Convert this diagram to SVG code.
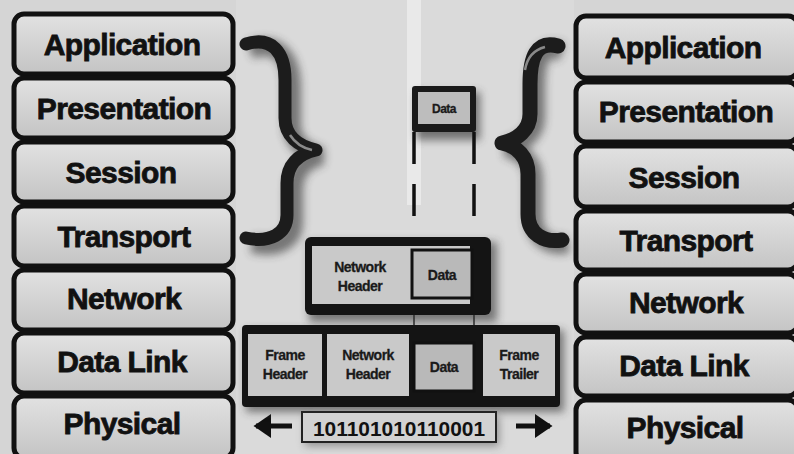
<svg xmlns="http://www.w3.org/2000/svg" width="794" height="454" viewBox="0 0 794 454">
<defs>
<linearGradient id="boxg" x1="0" y1="0" x2="0" y2="1">
<stop offset="0" stop-color="#e2e2e2"/>
<stop offset="1" stop-color="#c4c4c4"/>
</linearGradient>
<filter id="blur" x="-30%" y="-30%" width="160%" height="160%"><feGaussianBlur stdDeviation="4"/></filter>
<marker id="arr" markerWidth="6" markerHeight="6" refX="3" refY="3" orient="auto" markerUnits="strokeWidth">
<path d="M0,0.6 L3.5,3 L0,5.4 Z" fill="#111"/>
</marker>
</defs>
<style>
.layer{fill:url(#boxg);stroke:#111;stroke-width:5}
.lt{font-family:"Liberation Sans",Arial,sans-serif;font-weight:bold;font-size:30px;fill:#111;stroke:#111;stroke-width:0.8px;text-anchor:middle;letter-spacing:-0.6px}
.st{font-family:"Liberation Sans",Arial,sans-serif;font-weight:bold;font-size:14px;fill:#1a1a1a;stroke:#1a1a1a;stroke-width:0.3px;text-anchor:middle;letter-spacing:-0.5px}
.cell{fill:#c9c9c9}
.dbox{fill:#b9b9b9;stroke:#111;stroke-width:3}
.brace{fill:none;stroke:#1c1c1c;stroke-width:13;stroke-linecap:round;stroke-linejoin:round}
.bshadow{fill:none;stroke:#333;stroke-width:18;opacity:0.6}
.hl{fill:none;stroke:#8a8a8a;stroke-width:2.5}
.dash{stroke:#111;stroke-width:3.5;stroke-dasharray:32 20;fill:none}
</style>
<rect width="794" height="454" fill="#d5d5d5"/>
<rect x="236" y="0" width="338" height="454" fill="#dadada"/>
<rect x="407" y="0" width="14" height="205" fill="#eeeeee" opacity="0.75"/>

<g id="left-application"><rect class="layer" x="14" y="14" width="219" height="60" rx="10"/><text class="lt" x="122" y="55">Application</text></g>
<g id="left-presentation"><rect class="layer" x="14" y="78" width="219" height="60" rx="10"/><text class="lt" x="124" y="119">Presentation</text></g>
<g id="left-session"><rect class="layer" x="14" y="142" width="219" height="60" rx="10"/><text class="lt" x="121" y="183">Session</text></g>
<g id="left-transport"><rect class="layer" x="14" y="206" width="219" height="60" rx="10"/><text class="lt" x="124" y="247">Transport</text></g>
<g id="left-network"><rect class="layer" x="14" y="270" width="219" height="60" rx="10"/><text class="lt" x="124" y="309">Network</text></g>
<g id="left-datalink"><rect class="layer" x="14" y="333" width="219" height="60" rx="10"/><text class="lt" x="122" y="372">Data Link</text></g>
<g id="left-physical"><rect class="layer" x="14" y="396" width="219" height="62" rx="10"/><text class="lt" x="122" y="434">Physical</text></g>

<g id="right-application"><rect class="layer" x="576" y="16" width="222" height="62" rx="10"/><text class="lt" x="683" y="58">Application</text></g>
<g id="right-presentation"><rect class="layer" x="576" y="82" width="222" height="60" rx="10"/><text class="lt" x="686" y="122">Presentation</text></g>
<g id="right-session"><rect class="layer" x="576" y="146" width="222" height="61" rx="10"/><text class="lt" x="684" y="188">Session</text></g>
<g id="right-transport"><rect class="layer" x="576" y="211" width="222" height="59" rx="10"/><text class="lt" x="686" y="251">Transport</text></g>
<g id="right-network"><rect class="layer" x="576" y="274" width="222" height="59" rx="10"/><text class="lt" x="686" y="313">Network</text></g>
<g id="right-datalink"><rect class="layer" x="576" y="337" width="222" height="59" rx="10"/><text class="lt" x="684" y="376">Data Link</text></g>
<g id="right-physical"><rect class="layer" x="576" y="400" width="222" height="62" rx="10"/><text class="lt" x="685" y="438">Physical</text></g>

<g id="left-brace">
<path class="bshadow" filter="url(#blur)" d="M250 50 C278 40 292 58 292 88 L292 125 C292 142 305 152 322 156 C305 160 294 172 294 190 L294 222 C294 240 278 250 252 244"/>
<path class="brace" d="M246 44 C272 36 285 52 285 80 L285 118 C285 136 298 146 316 150 C298 154 287 165 287 183 L287 215 C287 234 270 243 246 238"/>
<path class="hl" d="M290 135 C295 143 303 148 312 150"/>
</g>
<g id="right-brace">
<path class="bshadow" filter="url(#blur)" d="M562 52 C540 44 536 62 536 88 L536 118 C536 134 522 144 506 148 C522 152 534 162 534 180 L534 218 C534 238 550 248 568 244"/>
<path class="brace" style="stroke-width:15" d="M558 46 C536 40 530 58 530 84 L530 114 C530 130 517 140 502 143 C517 146 528 157 528 174 L528 214 C528 234 544 243 562 240"/>
<path class="hl" d="M525 70 C527 58 533 50 545 47"/>
</g>

<g id="data-segment">
<rect x="416" y="92" width="64" height="48" fill="#444" filter="url(#blur)" opacity="0.7"/>
<rect x="412" y="86" width="64" height="46" rx="3" fill="#1a1a1a"/>
<rect x="418" y="92" width="52" height="32" fill="#bdbdbd"/>
<text class="st" x="444" y="113" style="font-size:12px">Data</text>
</g>

<g id="connectors">
<line class="dash" x1="414" y1="132" x2="414" y2="236"/>
<line class="dash" x1="474" y1="132" x2="474" y2="236"/>
<line x1="414" y1="300" x2="414" y2="345" stroke="#555" stroke-width="2"/>
<line x1="474" y1="300" x2="474" y2="345" stroke="#555" stroke-width="2"/>
<line x1="292" y1="426" x2="256" y2="426" stroke="#111" stroke-width="5" marker-end="url(#arr)"/>
<line x1="516" y1="426" x2="550" y2="426" stroke="#111" stroke-width="5" marker-end="url(#arr)"/>
</g>

<g id="network-packet">
<rect x="309" y="242" width="188" height="80" fill="#333" filter="url(#blur)" opacity="0.6"/>
<rect x="305" y="237" width="186" height="78" rx="6" fill="#141414"/>
<rect x="312" y="246" width="158" height="58" class="cell"/>
<rect x="412" y="250" width="60" height="48" class="dbox"/>
<text class="st" x="360" y="272">Network</text>
<text class="st" x="360" y="291">Header</text>
<text class="st" x="442" y="280">Data</text>
</g>

<g id="frame">
<rect x="246" y="330" width="318" height="82" fill="#333" filter="url(#blur)" opacity="0.6"/>
<rect x="242" y="325" width="318" height="82" rx="4" fill="#141414"/>
<rect x="248" y="334" width="74" height="62" class="cell"/>
<rect x="327" y="334" width="82" height="62" class="cell"/>
<rect x="414" y="343" width="60" height="48" class="dbox"/>
<rect x="483" y="334" width="72" height="62" class="cell"/>
<text class="st" x="285" y="360">Frame</text>
<text class="st" x="285" y="379">Header</text>
<text class="st" x="368" y="360">Network</text>
<text class="st" x="368" y="379">Header</text>
<text class="st" x="444" y="372">Data</text>
<text class="st" x="519" y="360">Frame</text>
<text class="st" x="519" y="379">Trailer</text>
</g>

<g id="bitstream">
<rect x="305" y="416" width="194" height="30" fill="#444" filter="url(#blur)" opacity="0.5"/>
<rect x="302" y="412" width="194" height="30" fill="#d2d2d2" stroke="#222" stroke-width="2"/>
<text x="399" y="436" textLength="172" lengthAdjust="spacingAndGlyphs" style="font-family:'Liberation Sans',Arial,sans-serif;font-weight:bold;font-size:21px;fill:#111;text-anchor:middle">101101010110001</text>
</g>
</svg>
